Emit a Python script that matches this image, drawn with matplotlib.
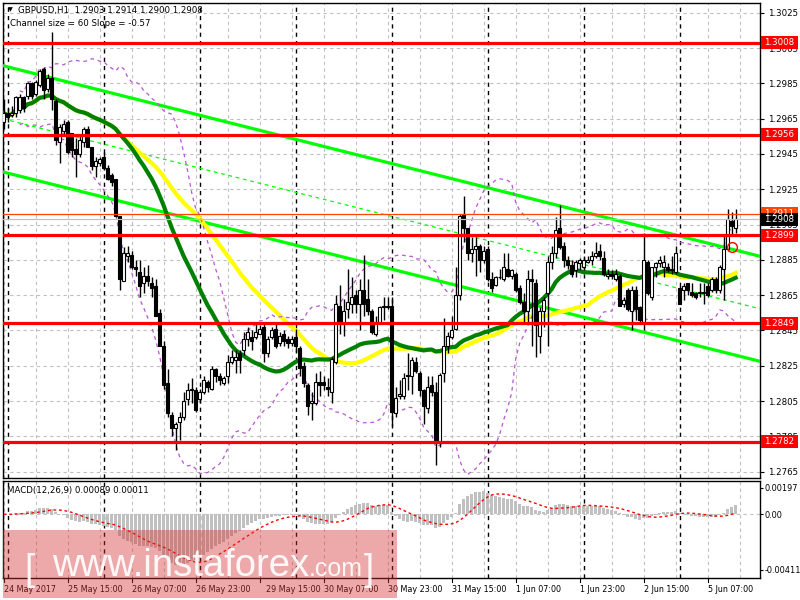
import numpy as np
import pandas as pd
import matplotlib
matplotlib.use('Agg')
import matplotlib.pyplot as plt
import matplotlib.transforms as mtrans
from matplotlib.patches import Rectangle

## GBPUSD H1 candles (bar 0 = 24 May 23:00)
opens = [1.2963, 1.2968, 1.2967, 1.2968, 1.2970, 1.2977, 1.2978, 1.2985, 1.2979, 1.2984,
         1.2993, 1.2982, 1.2988, 1.2975, 1.2952, 1.2958, 1.2963, 1.2957, 1.2948, 1.2945,
         1.2952, 1.2959, 1.2949, 1.2938, 1.2940, 1.2943, 1.2937, 1.2933, 1.2931, 1.2910,
         1.2873, 1.2887, 1.2888, 1.2881, 1.2878, 1.2872, 1.2876, 1.2872, 1.2870, 1.2855,
         1.2836, 1.2815, 1.2797, 1.2790, 1.2793, 1.2796, 1.2806, 1.2811, 1.2811, 1.2806,
         1.2810, 1.2816, 1.2812, 1.2823, 1.2819, 1.2815, 1.2819, 1.2827, 1.2828, 1.2832,
         1.2834, 1.2840, 1.2841, 1.2841, 1.2843, 1.2847, 1.2832, 1.2841, 1.2846, 1.2838,
         1.2843, 1.2840, 1.2838, 1.2841, 1.2835, 1.2825, 1.2814, 1.2804, 1.2804, 1.2816,
         1.2816, 1.2813, 1.2810, 1.2827, 1.2859, 1.2849, 1.2857, 1.2860, 1.2865, 1.2860,
         1.2868, 1.2863, 1.2856, 1.2843, 1.2850, 1.2858, 1.2859, 1.2859, 1.2798, 1.2808,
         1.2808, 1.2820, 1.2819, 1.2827, 1.2821, 1.2811, 1.2801, 1.2814, 1.2810, 1.2782,
         1.2821, 1.2836, 1.2841, 1.2846, 1.2865, 1.2911, 1.2903, 1.2889, 1.2891, 1.2893,
         1.2885, 1.2891, 1.2874, 1.2871, 1.2875, 1.2874, 1.2880, 1.2876, 1.2877, 1.2869,
         1.2861, 1.2856, 1.2874, 1.2872, 1.2842, 1.2856, 1.2866, 1.2884, 1.2889, 1.2903,
         1.2893, 1.2885, 1.2882, 1.2879, 1.2883, 1.2881, 1.2884, 1.2885, 1.2887, 1.2890,
         1.2886, 1.2876, 1.2877, 1.2874, 1.2876, 1.2860, 1.2868, 1.2856, 1.2868, 1.2858,
         1.2850, 1.2884, 1.2864, 1.2881, 1.2883, 1.2881, 1.2881, 1.2880, 1.2878, 1.2869,
         1.2868, 1.2872, 1.2867, 1.2866, 1.2866, 1.2866, 1.2870, 1.2868, 1.2874, 1.2868,
         1.2880, 1.2891, 1.2907, 1.2903]
highs = [1.2976, 1.2971, 1.2972, 1.2978, 1.2979, 1.2978, 1.2986, 1.2986, 1.2987, 1.2993,
         1.2994, 1.2990, 1.3014, 1.2976, 1.2962, 1.2964, 1.2964, 1.2957, 1.2954, 1.2955,
         1.2960, 1.2961, 1.2949, 1.2943, 1.2943, 1.2946, 1.2939, 1.2934, 1.2931, 1.2910,
         1.2892, 1.2893, 1.2890, 1.2885, 1.2885, 1.2881, 1.2882, 1.2875, 1.2874, 1.2857,
         1.2839, 1.2823, 1.2799, 1.2793, 1.2799, 1.2810, 1.2815, 1.2818, 1.2813, 1.2812,
         1.2819, 1.2817, 1.2825, 1.2824, 1.2821, 1.2819, 1.2831, 1.2834, 1.2834, 1.2834,
         1.2844, 1.2847, 1.2845, 1.2849, 1.2848, 1.2850, 1.2842, 1.2847, 1.2850, 1.2844,
         1.2845, 1.2842, 1.2842, 1.2846, 1.2836, 1.2827, 1.2815, 1.2810, 1.2821, 1.2822,
         1.2819, 1.2818, 1.2830, 1.2865, 1.2871, 1.2863, 1.2880, 1.2875, 1.2868, 1.2874,
         1.2888, 1.2874, 1.2857, 1.2853, 1.2859, 1.2864, 1.2864, 1.2864, 1.2813, 1.2817,
         1.2821, 1.2832, 1.2830, 1.2830, 1.2822, 1.2812, 1.2819, 1.2819, 1.2816, 1.2821,
         1.2852, 1.2844, 1.2853, 1.2881, 1.2911, 1.2921, 1.2903, 1.2898, 1.2898, 1.2894,
         1.2893, 1.2893, 1.2878, 1.2876, 1.2880, 1.2889, 1.2889, 1.2880, 1.2878, 1.2871,
         1.2866, 1.2879, 1.2880, 1.2874, 1.2858, 1.2864, 1.2887, 1.2893, 1.2909, 1.2916,
         1.2895, 1.2887, 1.2885, 1.2885, 1.2886, 1.2887, 1.2887, 1.2890, 1.2895, 1.2894,
         1.2890, 1.2880, 1.2879, 1.2880, 1.2877, 1.2864, 1.2869, 1.2870, 1.2870, 1.2859,
         1.2900, 1.2885, 1.2881, 1.2884, 1.2887, 1.2888, 1.2883, 1.2887, 1.2893, 1.2870,
         1.2872, 1.2872, 1.2872, 1.2867, 1.2872, 1.2872, 1.2872, 1.2875, 1.2875, 1.2882,
         1.2899, 1.2914, 1.2912, 1.2914]
lows = [1.2959, 1.2963, 1.2966, 1.2966, 1.2968, 1.2969, 1.2976, 1.2976, 1.2978, 1.2983,
        1.2976, 1.2980, 1.2970, 1.2950, 1.2940, 1.2955, 1.2945, 1.2943, 1.2932, 1.2943,
        1.2949, 1.2949, 1.2936, 1.2932, 1.2938, 1.2936, 1.2930, 1.2927, 1.2909, 1.2868,
        1.2873, 1.2884, 1.2880, 1.2876, 1.2864, 1.2866, 1.2870, 1.2864, 1.2853, 1.2836,
        1.2812, 1.2796, 1.2785, 1.2777, 1.2783, 1.2794, 1.2803, 1.2804, 1.2799, 1.2804,
        1.2809, 1.2810, 1.2811, 1.2816, 1.2814, 1.2814, 1.2815, 1.2826, 1.2821, 1.2821,
        1.2831, 1.2836, 1.2834, 1.2840, 1.2843, 1.2827, 1.2830, 1.2840, 1.2835, 1.2836,
        1.2836, 1.2835, 1.2836, 1.2833, 1.2819, 1.2813, 1.2797, 1.2794, 1.2803, 1.2808,
        1.2811, 1.2808, 1.2804, 1.2826, 1.2843, 1.2842, 1.2852, 1.2855, 1.2855, 1.2845,
        1.2853, 1.2854, 1.2843, 1.2842, 1.2849, 1.2851, 1.2857, 1.2791, 1.2796, 1.2806,
        1.2806, 1.2811, 1.2809, 1.2821, 1.2808, 1.2792, 1.2798, 1.2808, 1.2769, 1.2779,
        1.2816, 1.2832, 1.2840, 1.2845, 1.2862, 1.2895, 1.2885, 1.2884, 1.2876, 1.2878,
        1.2883, 1.2873, 1.2867, 1.2870, 1.2874, 1.2873, 1.2875, 1.2874, 1.2867, 1.2860,
        1.2849, 1.2849, 1.2836, 1.2830, 1.2832, 1.2847, 1.2836, 1.2880, 1.2886, 1.2891,
        1.2881, 1.2880, 1.2875, 1.2875, 1.2879, 1.2879, 1.2883, 1.2882, 1.2886, 1.2885,
        1.2876, 1.2874, 1.2874, 1.2873, 1.2859, 1.2858, 1.2856, 1.2845, 1.2851, 1.2850,
        1.2845, 1.2865, 1.2862, 1.2875, 1.2881, 1.2875, 1.2878, 1.2877, 1.2877, 1.2860,
        1.2862, 1.2865, 1.2864, 1.2863, 1.2864, 1.2860, 1.2864, 1.2867, 1.2866, 1.2866,
        1.2862, 1.2890, 1.2899, 1.2900]
closes = [1.2968, 1.2966, 1.2968, 1.2977, 1.2977, 1.2971, 1.2985, 1.2978, 1.2986, 1.2992,
          1.2981, 1.2988, 1.2976, 1.2953, 1.2960, 1.2962, 1.2946, 1.2947, 1.2945, 1.2953,
          1.2959, 1.2949, 1.2938, 1.2941, 1.2942, 1.2937, 1.2931, 1.2929, 1.2910, 1.2874,
          1.2889, 1.2889, 1.2881, 1.2880, 1.2870, 1.2876, 1.2873, 1.2869, 1.2853, 1.2836,
          1.2814, 1.2798, 1.2790, 1.2792, 1.2796, 1.2805, 1.2811, 1.2812, 1.2800, 1.2810,
          1.2817, 1.2813, 1.2823, 1.2819, 1.2817, 1.2818, 1.2827, 1.2830, 1.2830, 1.2828,
          1.2840, 1.2844, 1.2839, 1.2844, 1.2846, 1.2832, 1.2840, 1.2845, 1.2836, 1.2842,
          1.2839, 1.2838, 1.2840, 1.2836, 1.2824, 1.2815, 1.2802, 1.2805, 1.2816, 1.2814,
          1.2814, 1.2812, 1.2829, 1.2860, 1.2849, 1.2856, 1.2861, 1.2864, 1.2860, 1.2868,
          1.2860, 1.2856, 1.2844, 1.2850, 1.2858, 1.2859, 1.2858, 1.2799, 1.2807, 1.2809,
          1.2818, 1.2819, 1.2828, 1.2822, 1.2811, 1.2802, 1.2813, 1.2810, 1.2783, 1.2820,
          1.2836, 1.2842, 1.2845, 1.2865, 1.2910, 1.2903, 1.2889, 1.2891, 1.2893, 1.2885,
          1.2890, 1.2874, 1.2869, 1.2875, 1.2875, 1.2881, 1.2876, 1.2879, 1.2868, 1.2861,
          1.2856, 1.2874, 1.2873, 1.2848, 1.2856, 1.2862, 1.2884, 1.2889, 1.2902, 1.2892,
          1.2885, 1.2882, 1.2877, 1.2884, 1.2885, 1.2885, 1.2885, 1.2887, 1.2889, 1.2887,
          1.2877, 1.2877, 1.2876, 1.2877, 1.2859, 1.2862, 1.2857, 1.2868, 1.2857, 1.2851,
          1.2885, 1.2866, 1.2881, 1.2883, 1.2885, 1.2884, 1.2879, 1.2879, 1.2889, 1.2860,
          1.2870, 1.2868, 1.2865, 1.2864, 1.2867, 1.2867, 1.2865, 1.2874, 1.2868, 1.2881,
          1.2891, 1.2908, 1.2904, 1.2908]

levels = [1.3008, 1.2956, 1.2899, 1.2849, 1.2782]   ## red support/resistance lines
ask_price = 1.2911
bid_price = 1.2908
chan_x = [-0.2, 189.1]            ## channel end points (bar index)
chan_upper = [1.2995, 1.2887]
chan_lower = [1.29348, 1.28275]
mark_bar, mark_price = 182, 1.2892

price_ticks = [1.2765 + 0.002 * k for k in range(14)]
time_bars = [0, 16, 32, 48, 64, 80, 96, 112, 128, 144, 160, 176]
time_labels = ['24 May 2017', '25 May 15:00', '26 May 07:00', '26 May 23:00',
               '29 May 15:00', '30 May 07:00', '30 May 23:00', '31 May 15:00',
               '1 Jun 07:00', '1 Jun 23:00', '2 Jun 15:00', '5 Jun 07:00']
day_starts = [1, 25, 49, 73, 97, 121, 145, 169]
macd_ticks = [0.00197, 0.0, -0.00411]
macd_tick_labels = ['0.00197', '0.00', '-0.00411']

## indicators from the closes
s = pd.Series(closes)
ma30 = s.rolling(30, min_periods=1).mean()
ma50 = s.rolling(50, min_periods=1).mean()
bb_mid = s.rolling(20, min_periods=5).mean()
bb_sd = s.rolling(20, min_periods=5).std(ddof=0)
macd = s.ewm(span=12, adjust=False).mean() - s.ewm(span=26, adjust=False).mean()
sig = macd.rolling(9, min_periods=1).mean()

W, H = 800, 600
FS = 6.2   ## MT4 small font
fig = plt.figure(figsize=(8, 6), dpi=100)
ax = fig.add_axes([3 / W, 1 - 478 / H, 757 / W, 475 / H])
axm = fig.add_axes([3 / W, 1 - 578 / H, 757 / W, 97 / H])

x = np.arange(len(closes))
o = np.array(opens); c = np.array(closes)
hi = np.array(highs); lo = np.array(lows)
xlim = (-0.175, 189.08)
grid_col = '#C0C0C0'
dash = (0, (3, 3))

for a in (ax, axm):
    a.set_xlim(*xlim)
    for k in range(0, 190, 8):
        a.axvline(k, color=grid_col, lw=0.8, ls=dash, zorder=0)
    for d in day_starts:
        a.axvline(d, color='black', lw=1, ls=dash, zorder=1)
    a.set_xticks([])
    for sp in a.spines.values():
        sp.set_linewidth(1)

## ---- main price chart
ax.set_ylim(1.27614, 1.30305)
for p in price_ticks:
    ax.axhline(p, color=grid_col, lw=0.8, ls=dash, zorder=0)

# channel
cu = np.array(chan_upper); cl = np.array(chan_lower)
ax.plot(chan_x, cu, color='#00FF00', lw=2.3, zorder=3)
ax.plot(chan_x, cl, color='#00FF00', lw=2.3, zorder=3)
ax.plot(chan_x, (cu + cl) / 2, color='#00FF00', lw=0.9, ls=(0, (3, 3)), zorder=3)

# moving averages and bands
ax.plot(x, ma50, color='#FFFF00', lw=3, zorder=4)
ax.plot(x, ma30, color='#008000', lw=3, zorder=4)
ax.plot(x, bb_mid + 2 * bb_sd, color='#BA55D3', lw=0.9, ls=(0, (3, 3)), zorder=4)
ax.plot(x, bb_mid - 2 * bb_sd, color='#BA55D3', lw=0.9, ls=(0, (3, 3)), zorder=4)

# candles
up = c >= o
body_lo = np.minimum(o, c)
body_h = np.maximum(np.abs(c - o), 0.00004)
ax.vlines(x, lo, hi, color='black', lw=1, zorder=5)
ax.bar(x[up], body_h[up], bottom=body_lo[up], width=0.62, color='white',
       edgecolor='black', lw=0.8, zorder=6)
ax.bar(x[~up], body_h[~up], bottom=body_lo[~up], width=0.62, color='black',
       edgecolor='black', lw=0.8, zorder=6)

ax.axhline(ask_price, color='#FF4500', lw=0.9, zorder=7)
ax.axhline(bid_price, color='#C0C0C0', lw=0.9, zorder=7)
for lv in levels:
    ax.axhline(lv, color='#FF0000', lw=2.3, zorder=8)
ax.plot(mark_bar, mark_price, 'o', mfc='none', mec='red', ms=7, mew=1, zorder=9)

ax.yaxis.tick_right()
ax.set_yticks(price_ticks)
ax.set_yticklabels(['%.4f' % p for p in price_ticks], fontsize=FS)
ax.tick_params(axis='y', length=3, width=0.8, pad=3)

# price boxes on the right scale
tr = mtrans.blended_transform_factory(ax.transAxes, ax.transData)
bw = 37 / 757
bh = 6.5 / 17654
def price_box(p, fc):
    ax.add_patch(Rectangle((1.001, p - bh), bw, 2 * bh, transform=tr, fc=fc,
                           ec='none', clip_on=False, zorder=20))
    ax.text(1.001 + bw / 2, p, '%.4f' % p, transform=tr, color='white',
            fontsize=FS, ha='center', va='center', clip_on=False, zorder=21)
price_box(ask_price, '#FF4500')
price_box(bid_price, 'black')
for lv in levels:
    price_box(lv, '#FF0000')

fig.text(8 / W, 1 - 10 / H, '\u25BC', fontsize=4.5, va='center')
fig.text(18 / W, 1 - 10 / H, 'GBPUSD,H1  1.2903 1.2914 1.2900 1.2908',
         fontsize=FS, va='center')
fig.text(10 / W, 1 - 24 / H, 'Channel size = 60 Slope = -0.57', fontsize=FS, va='center')

## ---- MACD panel
axm.set_ylim(-0.0047, 0.00245)
axm.axhline(0, color=grid_col, lw=0.8, ls=dash, zorder=0)
axm.bar(x, macd, width=0.62, color='#C0C0C0', zorder=2)
axm.plot(x, sig, color='red', lw=1, ls=(0, (2, 2)), zorder=3)
axm.yaxis.tick_right()
axm.set_yticks(macd_ticks)
axm.set_yticklabels(macd_tick_labels, fontsize=5.9)
axm.tick_params(axis='y', length=2, width=0.8, pad=1.5)
fig.text(7 / W, 1 - 491 / H, 'MACD(12,26,9) 0.00089 0.00011', fontsize=FS, va='center')

trm = mtrans.blended_transform_factory(axm.transData, fig.transFigure)
for b, lab in zip(time_bars, time_labels):
    xb = b + 1.5 if lab.startswith('29') else b   ## MT4 nudges this one right
    axm.plot([b, b], [1 - 578 / H, 1 - 582 / H], color='black', lw=0.8,
             transform=trm, clip_on=False)
    axm.text(xb, 1 - 590 / H, lab, transform=trm, fontsize=5.8, ha='left', va='center')

## ---- watermark
fig.patches.append(Rectangle((3 / W, 1 - 598 / H), 394 / W, 68 / H, transform=fig.transFigure,
                             fc=(0.84, 0.2, 0.2), alpha=0.42, ec='none', zorder=10))
wm = dict(color='white', alpha=0.92, family='Liberation Sans', va='baseline', zorder=11)
fig.text(24 / W, 1 - 580 / H, '[', fontsize=26, **wm)
fig.text(52 / W, 1 - 576 / H, 'www.instaforex', fontsize=27.5, **wm)
fig.text(309 / W, 1 - 576 / H, '.com', fontsize=18, **wm)
fig.text(364 / W, 1 - 580 / H, ']', fontsize=26, **wm)

fig.savefig('out.png', dpi=100)
